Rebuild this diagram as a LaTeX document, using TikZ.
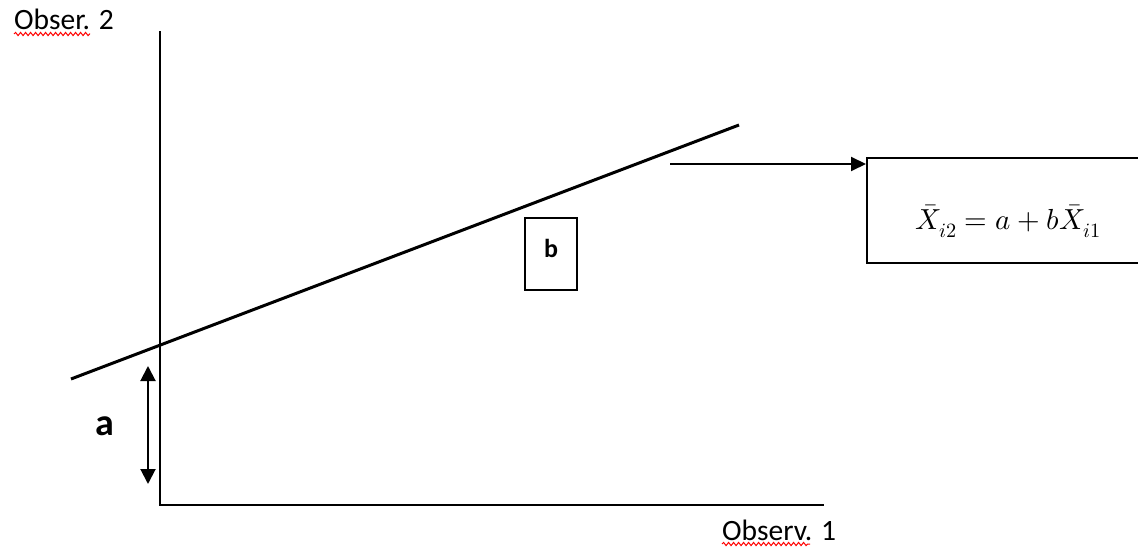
\documentclass[tikz,border=0pt]{standalone}
\usepackage{fontspec}
\usepackage{unicode-math}
\setmainfont{Carlito}
\setmathfont{Latin Modern Math}
\usetikzlibrary{arrows.meta,decorations.pathmorphing}
\begin{document}
\begin{tikzpicture}[x=1pt,y=-1pt,
  axis/.style={line width=2.2pt,line cap=rect},
  trend/.style={line width=3pt},
  framebox/.style={draw,line width=2pt,inner sep=0pt},
  lbl/.style={inner sep=0pt,font=\fontsize{29.5}{34}\selectfont},
  boldlbl/.style={inner sep=0pt,font=\bfseries},
  squig/.style={red,line width=1pt,decorate,decoration={snake,amplitude=1.6pt,segment length=5pt}},
  conn/.style={line width=2pt,-{Triangle[length=15pt,width=14pt]}},
  dbl/.style={line width=2pt,{Triangle[length=15pt,width=15pt]}-{Triangle[length=15pt,width=15pt]}}]
\clip (0,0) rectangle (1138,548);
\fill[white] (0,0) rectangle (1138,548);
% axes
\coordinate (O) at (160,505);
\coordinate (ytop) at (160,32);
\coordinate (xend) at (823,505);
\draw[axis] (ytop) -- (O) -- (xend);
% trend line
\coordinate (L1) at (71,379);
\coordinate (L2) at (739,125);
\draw[trend] (L1) -- (L2);
% b box
\node[framebox,minimum width=52pt,minimum height=72pt] (bbox) at (551,254) {};
\node[boldlbl,font=\bfseries\fontsize{26}{30}\selectfont] (blabel) at (551,248) {b};
% formula box
\node[framebox,anchor=north west,minimum width=300pt,minimum height=105pt] (fbox) at (866,157) {};
\node[inner sep=0pt,font=\fontsize{29}{35}\selectfont] (formula) at (1008,221) {$\bar{X}_{i2}=a+b\bar{X}_{i1}$};
\coordinate (astart) at (670,164);
\draw[conn] (astart) -- (astart -| fbox.west);
% a arrow
\coordinate (atop) at (148,366);
\coordinate (abot) at (148,484);
\draw[dbl] (atop) -- (abot);
\node[boldlbl,font=\bfseries\fontsize{38}{44}\selectfont] (alabel) at (105,426) {a};
% axis labels
\node[lbl,anchor=base west] (ylabel) at (14,30) {Obser. 2};
\node[lbl,anchor=base west] (xlabel) at (722,540) {Observ. 1};
\coordinate (s1a) at (14,34);
\coordinate (s1b) at (90,34);
\draw[squig] (s1a) -- (s1b);
\coordinate (s2a) at (722,544);
\coordinate (s2b) at (810,544);
\draw[squig] (s2a) -- (s2b);
\end{tikzpicture}
\end{document}
